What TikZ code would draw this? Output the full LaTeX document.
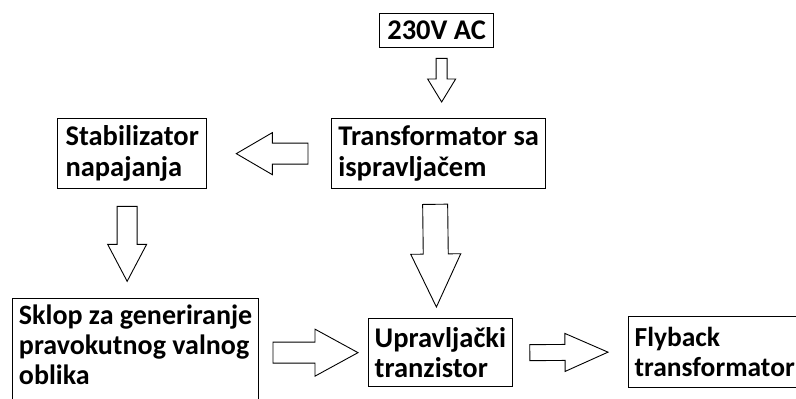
\documentclass[tikz,border=0pt]{standalone}
\usepackage{fontspec}
\setmainfont{Carlito}
\usetikzlibrary{calc}
\tikzset{
  blok/.style={draw,line width=1.3pt,anchor=north west,align=left,inner xsep=6pt,inner ysep=0pt,
    font=\fontsize{28.5}{30.5}\selectfont\bfseries},
  strelica/.style={draw,line width=0.9pt,line join=miter,fill=white},
}
% blok strelica: od, do, pola tijela, pola glave, duljina glave
\newcommand{\blokstrelica}[5]{%
  \coordinate (h) at ($(#2)!#5!(#1)$);
  \draw[strelica] ($(#1)!#3!90:(#2)$) -- ($(h)!#3!90:(#2)$) -- ($(h)!#4!90:(#2)$) -- (#2)
    -- ($(h)!#4!-90:(#2)$) -- ($(h)!#3!-90:(#2)$) -- ($(#1)!#3!-90:(#2)$) -- cycle;
}

\begin{document}
\begin{tikzpicture}[x=1pt,y=-1pt]
\useasboundingbox (0,0) rectangle (796,399);
\node[blok,minimum width=114pt,minimum height=34pt] (ac) at (379,13) {230V AC};
\node[blok,minimum width=214pt,minimum height=70pt] (trafo) at (331,118) {Transformator sa\\ispravljačem};
\node[blok,minimum width=149pt,minimum height=70pt] (stab) at (57,118) {Stabilizator\\napajanja};
\node[blok,minimum width=246pt,inner xsep=3pt,inner ysep=6pt,text depth=100pt,
  font=\fontsize{28}{30}\selectfont\bfseries] (sklop) at (12,298) {Sklop za generiranje\\pravokutnog valnog\\oblika};
\node[blok,minimum width=138pt,minimum height=68pt] (upr) at (368,318) {Upravljački\\tranzistor};
\node[blok,minimum width=180pt,minimum height=71pt,text width=168pt,
  font=\fontsize{27.5}{30.5}\selectfont\bfseries] (fly) at (628,316) {Flyback\\transformator};

\coordinate (a1) at ($(ac.south)+(5,10)$);
\coordinate (b1) at ($(trafo.north)+(3,-16)$);
\coordinate (a2) at ($(trafo.west)+(-23,0)$);
\coordinate (b2) at ($(stab.east)+(29,0)$);
\coordinate (a3) at ($(stab.south)+(-5,17)$);
\coordinate (b3) at ($(stab.south)+(-5,92)$);
\coordinate (a4) at ($(trafo.south)+(-3.5,15)$);
\coordinate (b4) at ($(upr.north)+(-4,-11)$);
\coordinate (a5) at ($(upr.west)+(-95,0)$);
\coordinate (b5) at ($(upr.west)+(-10,0)$);
\coordinate (a6) at ($(upr.east)+(17,0)$);
\coordinate (b6) at ($(fly.west)+(-20,0)$);

\blokstrelica{a1}{b1}{5.5pt}{14pt}{23pt}
\blokstrelica{a2}{b2}{10.5pt}{21pt}{36pt}
\blokstrelica{a3}{b3}{10pt}{19.5pt}{37pt}
\blokstrelica{a4}{b4}{12.5pt}{25pt}{53pt}
\blokstrelica{a5}{b5}{10.5pt}{23.5pt}{43pt}
\blokstrelica{a6}{b6}{8pt}{19pt}{43pt}
\end{tikzpicture}
\end{document}
